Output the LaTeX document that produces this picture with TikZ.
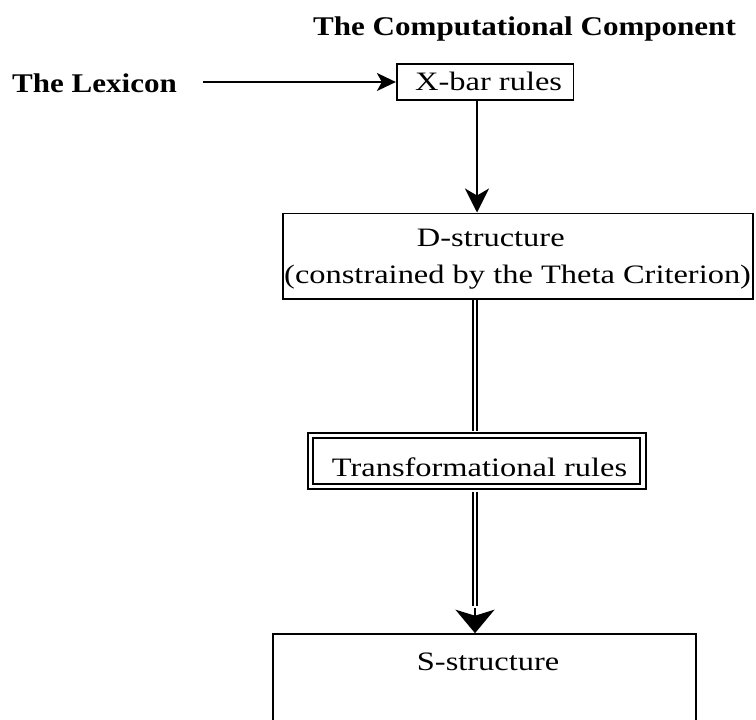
\documentclass[tikz,border=0pt]{standalone}
\usepackage{fontspec}
\usepackage{graphicx}
\setmainfont{Liberation Serif}
\usetikzlibrary{arrows.meta}
\newcommand\regtxt[1]{\scalebox{1.22}[1]{\fontsize{26.6}{30}\selectfont #1}}
\newcommand\boldtxt[1]{\scalebox{1.15}[1]{\fontsize{27}{30}\selectfont\bfseries #1}}
\tikzset{
  box/.style={draw, line width=1.6pt, rectangle, inner sep=0pt},
  dblbox/.style={draw, line width=2pt, double, double distance=3.4pt, rectangle, inner sep=0pt},
  lbl/.style={inner sep=0pt, anchor=base west},
  arr/.style={line width=1.6pt},
  dblline/.style={line width=2pt, double, double distance=2.6pt},
}
\begin{document}
\begin{tikzpicture}[x=1pt,y=-1pt]
\clip (0,0) rectangle (756,720);
\fill[white] (0,0) rectangle (756,720);
% title and lexicon
\node[lbl] (title) at (313,35) {\boldtxt{The Computational Component}};
\node[lbl] (lex) at (12,92) {\boldtxt{The Lexicon}};
% boxes
\node[box, minimum width=176.6pt, minimum height=36pt] (xbar) at (485,82) {};
\node[lbl] (xbart) at (415,90) {\regtxt{X-bar rules}};
\node[box, minimum width=470pt, minimum height=85.4pt] (dbox) at (518,256) {};
\node[lbl] (dt1) at (416.7,246) {\regtxt{D-structure}};
\node[lbl] (dt2) at (284,283) {\regtxt{(constrained by the Theta Criterion)}};
\node[dblbox, minimum width=332.5pt, minimum height=51pt] (trans) at (476.75,461) {};
\node[lbl] (tt) at (331.7,476.7) {\regtxt{Transformational rules}};
\node[box, minimum width=423.3pt, minimum height=106pt] (sbox) at (484.35,687) {};
\node[lbl] (st) at (416.7,670) {\regtxt{S-structure}};
% connectors
\coordinate (lexout) at (203,82);
\coordinate (axis) at (475,0);
\coordinate (xaxis) at (477,0);
\draw[arr, -{Stealth[length=19pt, width=18pt, inset=5pt]}] (lexout) -- (xbar.west);
\draw[arr, -{Stealth[length=24pt, width=24pt, inset=7pt]}] (xbar.south -| xaxis) -- (dbox.north -| xaxis);
\draw[dblline, shorten <=0.8pt, shorten >=4pt] (dbox.south -| axis) -- (trans.north -| axis);
\coordinate (headstart) at (475,606);
\draw[dblline, shorten <=4pt] (trans.south -| axis) -- (headstart);
\draw[arr, -{Stealth[length=23.5pt, width=39pt, inset=6pt]}] ([yshift=-2pt]headstart) -- (sbox.north -| axis);
\end{tikzpicture}
\end{document}
